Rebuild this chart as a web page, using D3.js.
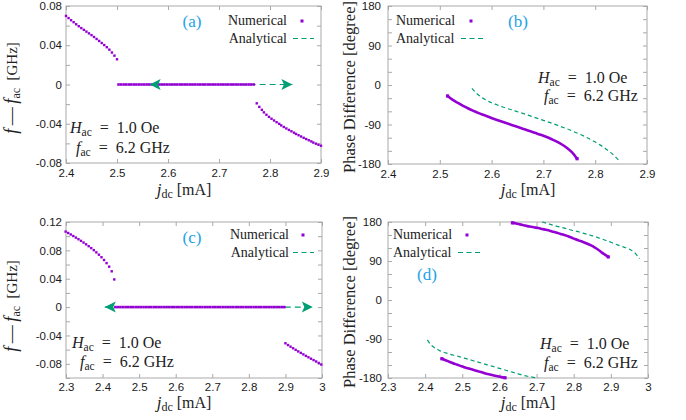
<!DOCTYPE html>
<html>
<head>
<meta charset="utf-8">
<script src="https://cdn.jsdelivr.net/npm/d3@7"></script>
<style>
  body { margin: 0; background: #fff; }
  svg { display: block; }
</style>
</head>
<body>
<div id="fig"></div>
<script>
// ---------- data ----------
// (a) f - f_ac [GHz] vs j_dc, H_ac = 1.0 Oe
const aUpper = [[2.400,0.0699],[2.405,0.0677],[2.410,0.0655],[2.415,0.0635],[2.420,0.0614],[2.425,0.0594],
  [2.430,0.0575],[2.435,0.0557],[2.440,0.0539],[2.445,0.0521],[2.450,0.0503],[2.455,0.0484],[2.460,0.0464],
  [2.465,0.0444],[2.470,0.0423],[2.475,0.0402],[2.480,0.0380],[2.485,0.0355],[2.490,0.0326],[2.495,0.0294],[2.500,0.0257]];
const aLower = [[2.774,-0.0192],[2.779,-0.0228],[2.784,-0.0258],[2.788,-0.0284],[2.793,-0.0308],[2.798,-0.0330],
  [2.803,-0.0349],[2.808,-0.0367],[2.813,-0.0384],[2.818,-0.0401],[2.822,-0.0417],[2.827,-0.0433],[2.832,-0.0448],
  [2.837,-0.0463],[2.842,-0.0477],[2.847,-0.0491],[2.851,-0.0504],[2.856,-0.0517],[2.861,-0.0530],[2.866,-0.0543],
  [2.871,-0.0556],[2.876,-0.0568],[2.881,-0.0580],[2.885,-0.0592],[2.890,-0.0603],[2.895,-0.0614],[2.900,-0.0624]];
const aLockRange = [2.503, 2.770];   // numerical locked plateau (f = f_ac)
const aLockStep = 0.005;
const aAnalytic = [[2.564, 0], [2.844, 0]];   // analytical locking range (arrows)

// (b) phase difference [degree]
const bNumerical = [[2.515,-25],[2.525,-34],[2.535,-41],[2.545,-47.5],[2.555,-53.5],[2.565,-59],[2.575,-64],
  [2.585,-68.5],[2.595,-73],[2.605,-77.5],[2.615,-81.5],[2.625,-85.5],[2.635,-89.5],[2.645,-93.5],[2.655,-97.5],
  [2.665,-101.5],[2.675,-105.5],[2.685,-109.5],[2.695,-113.5],[2.705,-118],[2.715,-123],[2.725,-128.5],
  [2.735,-135],[2.745,-143],[2.755,-153],[2.765,-168]];
const bAnalytic = [[2.562,-7.5],[2.57,-18],[2.58,-27.5],[2.59,-34.5],[2.60,-40.5],[2.61,-45],[2.62,-49.5],
  [2.63,-53.5],[2.64,-57],[2.65,-61],[2.66,-64.5],[2.67,-68.5],[2.68,-72.5],[2.69,-76.5],[2.70,-80.5],
  [2.71,-84.5],[2.72,-88.5],[2.73,-93],[2.74,-97.5],[2.75,-102],[2.76,-107],[2.77,-112],[2.78,-117.5],
  [2.79,-123.5],[2.80,-130],[2.81,-137],[2.82,-145],[2.83,-154],[2.84,-165],[2.845,-171]];

// (c) f - f_ac [GHz]
const cUpper = [[2.299,0.1065],[2.306,0.1045],[2.313,0.1024],[2.320,0.1002],[2.327,0.0980],[2.334,0.0957],
  [2.341,0.0934],[2.348,0.0910],[2.355,0.0885],[2.362,0.0859],[2.369,0.0832],[2.376,0.0803],[2.383,0.0772],
  [2.390,0.0739],[2.397,0.0703],[2.404,0.0664],[2.411,0.0620],[2.418,0.0570],[2.425,0.0505],[2.432,0.0390]];
const cLower = [[2.900,-0.0510],[2.907,-0.0535],[2.914,-0.0558],[2.921,-0.0581],[2.928,-0.0603],[2.935,-0.0625],
  [2.942,-0.0646],[2.949,-0.0667],[2.956,-0.0688],[2.963,-0.0708],[2.970,-0.0728],[2.977,-0.0748],
  [2.984,-0.0767],[2.991,-0.0788],[2.998,-0.0810]];
const cLockRange = [2.435, 2.895];
const cLockStep = 0.007;
const cAnalytic = [[2.406, 0], [2.975, 0]];

// (d) phase difference [degree], wraps at +-180
const dNumUpper = [[2.635,178],[2.645,176.5],[2.655,174.5],[2.665,172.5],[2.675,170.5],[2.685,169],[2.695,167.5],
  [2.705,166],[2.715,164],[2.725,162],[2.735,160],[2.745,157.5],[2.755,155],[2.765,152.5],[2.775,150],
  [2.785,147],[2.795,143.5],[2.805,140],[2.815,137],[2.825,134],[2.835,130.5],[2.845,126.5],[2.855,122],
  [2.865,116.5],[2.875,110],[2.885,104],[2.893,99.5]];
const dNumLower = [[2.445,-135.5],[2.455,-139],[2.465,-142.5],[2.475,-146],[2.485,-149],[2.495,-152],
  [2.505,-155],[2.515,-157.5],[2.525,-160],[2.535,-162.5],[2.545,-165],[2.555,-167.5],[2.565,-170],
  [2.575,-172],[2.585,-174],[2.595,-176],[2.605,-178],[2.615,-179.5]];
const dAnaUpper = [[2.715,180],[2.725,177.5],[2.735,175],[2.745,172.5],[2.755,170],[2.765,168],[2.775,166],
  [2.785,163.5],[2.795,161],[2.805,159],[2.815,157],[2.825,154.5],[2.835,152],[2.845,149.5],[2.855,147],
  [2.865,144],[2.875,141],[2.885,138],[2.895,135],[2.905,131.5],[2.915,128],[2.925,125],[2.935,122],
  [2.945,119],[2.955,115],[2.965,108.5],[2.975,98],[2.978,95.7]];
const dAnaLower = [[2.406,-92],[2.415,-103],[2.425,-110],[2.435,-115],[2.445,-119.5],[2.455,-122],
  [2.465,-124.5],[2.475,-127],[2.485,-129],[2.495,-131.5],[2.505,-134],[2.515,-136.5],[2.525,-139],
  [2.535,-141.5],[2.545,-144],[2.555,-146.5],[2.565,-149],[2.575,-151.5],[2.585,-154],[2.595,-156.5],
  [2.605,-159],[2.615,-161.5],[2.625,-164],[2.635,-166.5],[2.645,-169],[2.655,-171.5],[2.665,-174],
  [2.675,-176],[2.685,-177.5],[2.695,-179],[2.705,-180]];

// ticks
const xTicksTop = [2.4, 2.5, 2.6, 2.7, 2.8, 2.9];
const xTicksBottom = [2.3, 2.4, 2.5, 2.6, 2.7, 2.8, 2.9, 3.0];
const aYLabels = [-0.08, -0.04, 0, 0.04, 0.08];
const aYMinor = [-0.08, -0.06, -0.04, -0.02, 0, 0.02, 0.04, 0.06, 0.08];
const cYLabels = [-0.08, -0.04, 0, 0.04, 0.08, 0.12];
const cYMinor = [-0.1, -0.08, -0.06, -0.04, -0.02, 0, 0.02, 0.04, 0.06, 0.08, 0.1, 0.12];
const phaseLabels = [-180, -90, 0, 90, 180];
const phaseMinor = [-180, -150, -120, -90, -60, -30, 0, 30, 60, 90, 120, 150, 180];

// ---------- drawing ----------
const purple = "#9400d3", green = "#009e73", frameCol = "#a9a9a9", tagBlue = "#22a3e6";
const serif = "'Liberation Serif', 'Times New Roman', serif";
const sans = "'Liberation Sans', Arial, sans-serif";

const svg = d3.select("#fig").append("svg")
    .attr("width", 686)
    .attr("height", 420);

function rich(text, parts) {
    parts.forEach(p => {
        text.append("tspan")
            .attr("font-style", p.it ? "italic" : null)
            .attr("font-size", p.s)
            .attr("dy", p.dy || null)
            .text(p.t);
    });
    return text;
}

const fmtX = d => d.toFixed(1).replace(/\.0$/, "");
const fmtGHz = d => d === 0 ? "0" : (d < 0 ? "-" : "") + Math.abs(d).toFixed(2);
const fmtDeg = d => (d < 0 ? "-" : "") + Math.abs(d);

function drawPanel(p) {
    const x = d3.scaleLinear().domain(p.xDomain).range([p.left, p.right]);
    const y = d3.scaleLinear().domain(p.yDomain).range([p.bottom, p.top]);
    const g = svg.append("g");
    const tl = 4;

    g.append("g")
        .attr("transform", `translate(0,${p.bottom})`)
        .call(d3.axisBottom(x).tickValues(p.xTicks).tickSize(-tl).tickPadding(p.xPad).tickFormat(fmtX));
    g.append("g")
        .attr("transform", `translate(0,${p.top})`)
        .call(d3.axisTop(x).tickValues(p.xTicks).tickSize(-tl).tickFormat(""));
    g.append("g")
        .attr("transform", `translate(${p.left},0)`)
        .call(d3.axisLeft(y).tickValues(p.yMinor).tickSize(-tl).tickPadding(p.yPad)
            .tickFormat(d => p.yLabels.includes(d) ? p.yFmt(d) : ""));
    g.append("g")
        .attr("transform", `translate(${p.right},0)`)
        .call(d3.axisRight(y).tickValues(p.yMinor).tickSize(-tl).tickFormat(""));

    g.selectAll(".domain").remove();
    g.selectAll(".tick line").attr("stroke", frameCol);
    g.selectAll(".tick text")
        .attr("fill", "#1a1a1a")
        .attr("font-family", sans)
        .attr("font-size", "11.5px");

    g.append("rect")
        .attr("x", p.left).attr("y", p.top)
        .attr("width", p.right - p.left).attr("height", p.bottom - p.top)
        .attr("fill", "none")
        .attr("stroke", frameCol)
        .attr("stroke-width", 1);

    // axis titles
    rich(g.append("text")
        .attr("x", p.xTitle[0]).attr("y", p.xTitle[1])
        .attr("text-anchor", "middle")
        .attr("font-family", serif).attr("fill", "#222"),
        [{ t: "j", it: 1, s: 17 }, { t: "dc", s: 12, dy: 3 }, { t: " [mA]", s: 16, dy: -3 }]);

    rich(g.append("text")
        .attr("transform", `translate(${p.yTitle[0]},${p.yTitle[1]}) rotate(-90)`)
        .attr("text-anchor", "middle")
        .attr("font-family", serif).attr("fill", "#222"),
        p.yTitleParts);

    return { g, x, y };
}

function dots(g, data, x, y, size) {
    g.append("g").selectAll("rect").data(data).join("rect")
        .attr("x", d => x(d[0]) - size / 2)
        .attr("y", d => y(d[1]) - size / 2)
        .attr("width", size).attr("height", size)
        .attr("fill", purple);
}

function numLine(g, data, x, y) {
    g.append("path").datum(data)
        .attr("d", d3.line().x(d => x(d[0])).y(d => y(d[1])).curve(d3.curveMonotoneX))
        .attr("fill", "none").attr("stroke", purple)
        .attr("stroke-width", 2.6).attr("stroke-linecap", "round");
    dots(g, [data[0], data[data.length - 1]], x, y, 3.2);
}

function anaLine(g, data, x, y, dash) {
    g.append("path").datum(data)
        .attr("d", d3.line().x(d => x(d[0])).y(d => y(d[1])).curve(d3.curveMonotoneX))
        .attr("fill", "none").attr("stroke", green)
        .attr("stroke-width", 1.2).attr("stroke-dasharray", dash);
}

function arrowHead(g, px, py, dir) {
    const L = 11, w = 5.5, n = 8.5;
    const pts = [[px, py], [px - dir * L, py - w], [px - dir * n, py], [px - dir * L, py + w]];
    g.append("path").attr("d", "M" + pts.join("L") + "Z").attr("fill", green);
}

function lockPlateau(g, range, step, analytic, x, y) {
    anaLine(g, analytic, x, y, "6,4");
    const pts = d3.range(range[0], range[1] + step / 2, step).map(j => [j, 0]);
    dots(g, pts, x, y, 2.6);
    arrowHead(g, x(analytic[0][0]), y(0), -1);
    arrowHead(g, x(analytic[1][0]), y(0), 1);
}

function legend(g, cfg) {
    g.append("text").attr("x", cfg.tx).attr("y", cfg.y1)
        .attr("text-anchor", cfg.anchor).attr("font-family", serif)
        .attr("font-size", "14px").attr("fill", "#222").text("Numerical");
    g.append("text").attr("x", cfg.tx).attr("y", cfg.y2)
        .attr("text-anchor", cfg.anchor).attr("font-family", serif)
        .attr("font-size", "14px").attr("fill", "#222").text("Analytical");
    g.append("rect").attr("x", cfg.dotX - 1.5).attr("y", cfg.y1 - 5.5)
        .attr("width", 3).attr("height", 3).attr("fill", purple);
    g.append("line").attr("x1", cfg.dash[0]).attr("x2", cfg.dash[1])
        .attr("y1", cfg.y2 - 4.5).attr("y2", cfg.y2 - 4.5)
        .attr("stroke", green).attr("stroke-width", 1.2).attr("stroke-dasharray", "5,3.5");
}

function tag(g, x, y, s) {
    g.append("text").attr("x", x).attr("y", y).attr("text-anchor", "middle")
        .attr("font-family", serif).attr("font-size", "17px").attr("fill", tagBlue).text(s);
}

function params(g, x1, y1, x2, y2) {
    rich(g.append("text").attr("x", x1).attr("y", y1).attr("font-family", serif).attr("fill", "#222"),
        [{ t: "H", it: 1, s: 16 }, { t: "ac", s: 11.5, dy: 3 }, { t: "\u2002=\u20021.0 Oe", s: 16, dy: -3 }]);
    rich(g.append("text").attr("x", x2).attr("y", y2).attr("font-family", serif).attr("fill", "#222"),
        [{ t: "f", it: 1, s: 16 }, { t: "ac", s: 11.5, dy: 3 }, { t: "\u2002=\u20026.2 GHz", s: 16, dy: -3 }]);
}

const freqTitle = [{ t: "f", it: 1, s: 18 }, { t: "\u2009\u2014\u2009", s: 18 }, { t: "f", it: 1, s: 18 },
    { t: "ac", s: 12, dy: 3 }, { t: "\u2002[GHz]", s: 15, dy: -3 }];
const phaseTitle = [{ t: "Phase Difference [degree]", s: 16.5 }];

// ----- (a) -----
{
    const { g, x, y } = drawPanel({
        left: 66, right: 321, top: 6, bottom: 163,
        xDomain: [2.4, 2.9], yDomain: [-0.08, 0.08],
        xTicks: xTicksTop, yMinor: aYMinor, yLabels: aYLabels, yFmt: fmtGHz,
        xPad: 6, yPad: 4, xTitle: [184, 195], yTitle: [17, 88], yTitleParts: freqTitle
    });
    dots(g, aUpper, x, y, 2.4);
    dots(g, aLower, x, y, 2.4);
    lockPlateau(g, aLockRange, aLockStep, aAnalytic, x, y);
    legend(g, { tx: 287, anchor: "end", y1: 25, y2: 43, dotX: 302, dash: [293, 314] });
    tag(g, 192, 27, "(a)");
    params(g, 70, 133, 76, 153);
}

// ----- (b) -----
{
    const { g, x, y } = drawPanel({
        left: 388, right: 647, top: 6, bottom: 164,
        xDomain: [2.4, 2.9], yDomain: [-180, 180],
        xTicks: xTicksTop, yMinor: phaseMinor, yLabels: phaseLabels, yFmt: fmtDeg,
        xPad: 6, yPad: 7, xTitle: [528, 195], yTitle: [355, 87], yTitleParts: phaseTitle
    });
    anaLine(g, bAnalytic, x, y, "4,3");
    numLine(g, bNumerical, x, y);
    legend(g, { tx: 396, anchor: "start", y1: 25, y2: 43, dotX: 471, dash: [461, 484] });
    tag(g, 518, 27, "(b)");
    params(g, 538, 83, 544, 101);
}

// ----- (c) -----
{
    const { g, x, y } = drawPanel({
        left: 66, right: 322, top: 222, bottom: 378,
        xDomain: [2.3, 3.0], yDomain: [-0.1, 0.12],
        xTicks: xTicksBottom, yMinor: cYMinor, yLabels: cYLabels, yFmt: fmtGHz,
        xPad: 5, yPad: 4, xTitle: [184, 408], yTitle: [17, 306], yTitleParts: freqTitle
    });
    dots(g, cUpper, x, y, 2.4);
    dots(g, cLower, x, y, 2.4);
    lockPlateau(g, cLockRange, cLockStep, cAnalytic, x, y);
    legend(g, { tx: 289, anchor: "end", y1: 239, y2: 257, dotX: 303, dash: [293, 314] });
    tag(g, 192, 243, "(c)");
    params(g, 72, 348, 80, 367);
}

// ----- (d) -----
{
    const { g, x, y } = drawPanel({
        left: 388, right: 648, top: 222, bottom: 378,
        xDomain: [2.3, 3.0], yDomain: [-180, 180],
        xTicks: xTicksBottom, yMinor: phaseMinor, yLabels: phaseLabels, yFmt: fmtDeg,
        xPad: 5, yPad: 6, xTitle: [528, 408], yTitle: [355, 302], yTitleParts: phaseTitle
    });
    anaLine(g, dAnaUpper, x, y, "4,3");
    anaLine(g, dAnaLower, x, y, "4,3");
    numLine(g, dNumUpper, x, y);
    numLine(g, dNumLower, x, y);
    legend(g, { tx: 393, anchor: "start", y1: 239, y2: 257, dotX: 467, dash: [458, 481] });
    tag(g, 427, 280, "(d)");
    params(g, 540, 349, 544, 368);
}
</script>
</body>
</html>
